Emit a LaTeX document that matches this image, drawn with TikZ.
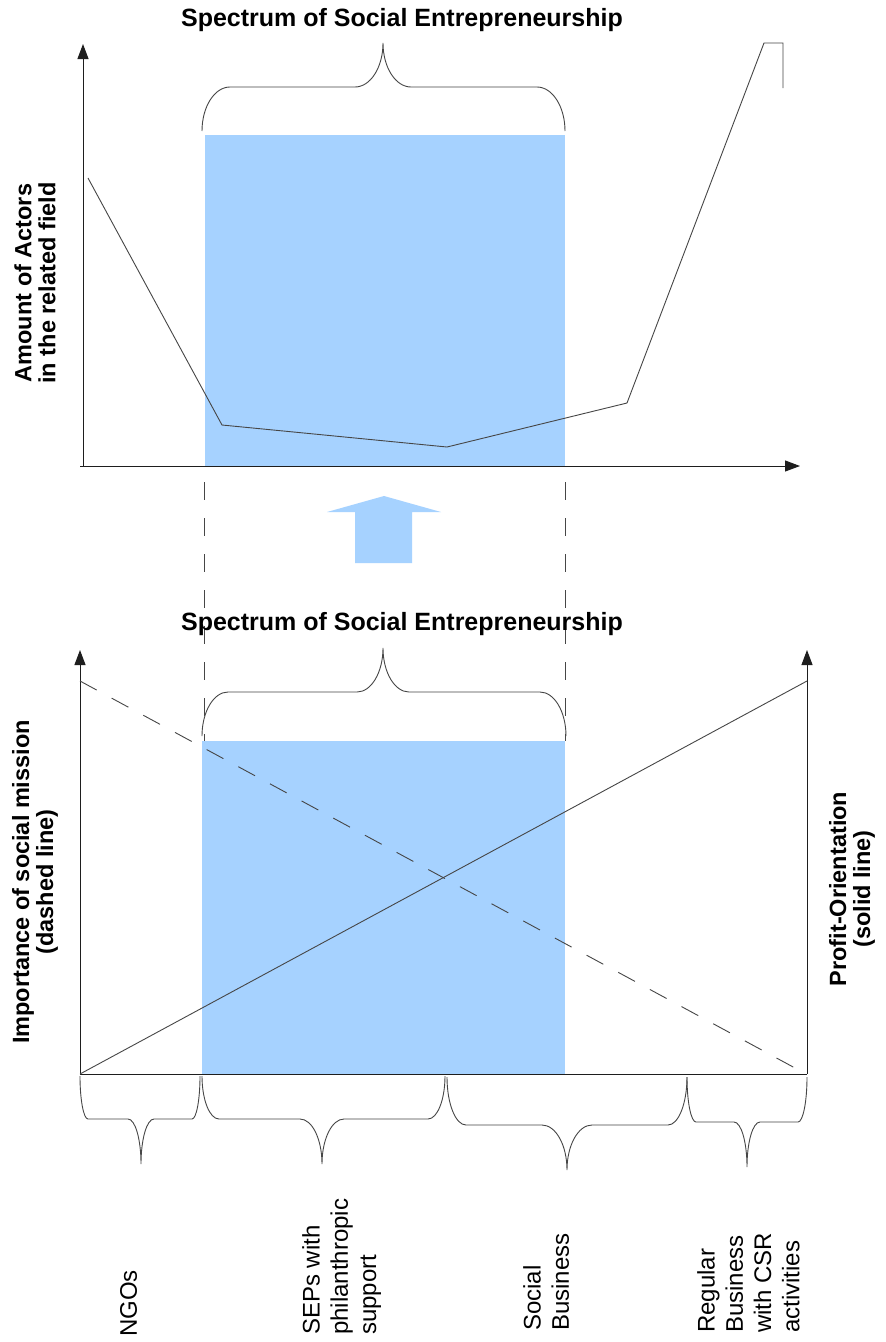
\documentclass[tikz,border=0pt]{standalone}
\usepackage{fontspec}
\setmainfont{Liberation Sans}
\usetikzlibrary{arrows.meta}
\definecolor{blu}{RGB}{166,210,255}
\definecolor{lnc}{RGB}{70,70,70}
\definecolor{axc}{RGB}{30,30,30}
\newcommand{\cbrace}[8]{%
 \draw[brc] (#1,#3)
 .. controls (#1,{#3+0.552*(#4-#3)}) and ({#1+0.448*#7},#4) .. ({#1+#7},#4)
 -- ({#6-#8},#4)
 .. controls ({#6-0.448*#8},#4) and (#6,{#5+0.552*(#4-#5)}) .. (#6,#5)
 .. controls (#6,{#5+0.552*(#4-#5)}) and ({#6+0.448*#8},#4) .. ({#6+#8},#4)
 -- ({#2-#7},#4)
 .. controls ({#2-0.448*#7},#4) and (#2,{#3+0.552*(#4-#3)}) .. (#2,#3);}
\begin{document}
\begin{tikzpicture}[x=1pt,y=-1pt,
  axis/.style={draw=axc,line width=1pt,-{Triangle[length=15pt,width=11pt]}},
  baseln/.style={draw=axc,line width=1pt},
  dataln/.style={draw=lnc,line width=0.9pt,line join=miter},
  dashln/.style={draw=lnc,line width=0.9pt,dash pattern=on 18pt off 18pt},
  brc/.style={draw=lnc,line width=0.9pt},
  ttl/.style={font=\fontsize{25}{29}\selectfont\bfseries,anchor=base,inner sep=0pt},
  axl/.style={font=\fontsize{23.5}{24}\selectfont\bfseries,rotate=90,align=center,inner sep=0pt},
  cat/.style={font=\fontsize{24}{28.3}\selectfont,rotate=90,align=left,anchor=north west,inner sep=0pt}]
\useasboundingbox (0,0) rectangle (886,1342);
\fill[white] (0,0) rectangle (886,1342);
% ---------- top chart ----------
\fill[blu] (205,135) rectangle (565,466);
\draw[axis] (83,466) -- (83,44);
\draw[axis] (80,466) -- (800,466);
\draw[dataln] (88,178) -- (222,425) -- (447,447) -- (627,403) -- (764,43) -- (783,43) -- (783,88);
\cbrace{202}{565}{131}{87}{43}{383}{28}{28}
\node[ttl] (t1) at (402,26) {Spectrum of Social Entrepreneurship};
\node[axl] (ya) at (35,283) {Amount of Actors\\in the related field};
% ---------- connecting dashes and arrow ----------
\draw[dashln] (204,482) -- (204,741);
\draw[dashln] (565,482) -- (565,741);
\fill[blu] (384,496) -- (441,512) -- (412,512) -- (412,563) -- (355,563) -- (355,512) -- (327,512) -- cycle;
% ---------- bottom chart ----------
\fill[blu] (202,741) rectangle (565,1074);
\draw[axis] (80,1074) -- (80,650);
\draw[axis] (807,1074) -- (807,650);
\draw[baseln] (80,1074) -- (807,1074);
\draw[dashln,dash pattern=on 19pt off 17pt] (80,681) -- (795,1068);
\draw[dataln] (80,1074) -- (807,681);
\cbrace{202}{566}{736}{692}{648}{383}{26}{26}
\node[ttl] (t2) at (402,630) {Spectrum of Social Entrepreneurship};
\node[axl] (yi) at (35,882) {Importance of social mission\\(dashed line)};
\node[axl] (yp) at (852,889) {Profit-Orientation\\(solid line)};
% category braces
\cbrace{80}{200}{1076}{1119}{1164}{141}{8}{13}
\cbrace{202}{445}{1076}{1119}{1164}{322}{17}{22}
\cbrace{447}{687}{1077}{1125}{1170}{567}{19}{25}
\cbrace{687}{807}{1077}{1122}{1167}{747}{9}{13}
% category labels
\node[cat] (ngo) at (120,1337) {NGOs};
\node[cat] (sep) at (302,1335) {SEPs with\\philanthropic\\support};
\node[cat] (sb) at (523,1331) {Social\\Business};
\node[cat] (rb) at (697,1333) {Regular\\Business\\with CSR\\activities};
\end{tikzpicture}
\end{document}
